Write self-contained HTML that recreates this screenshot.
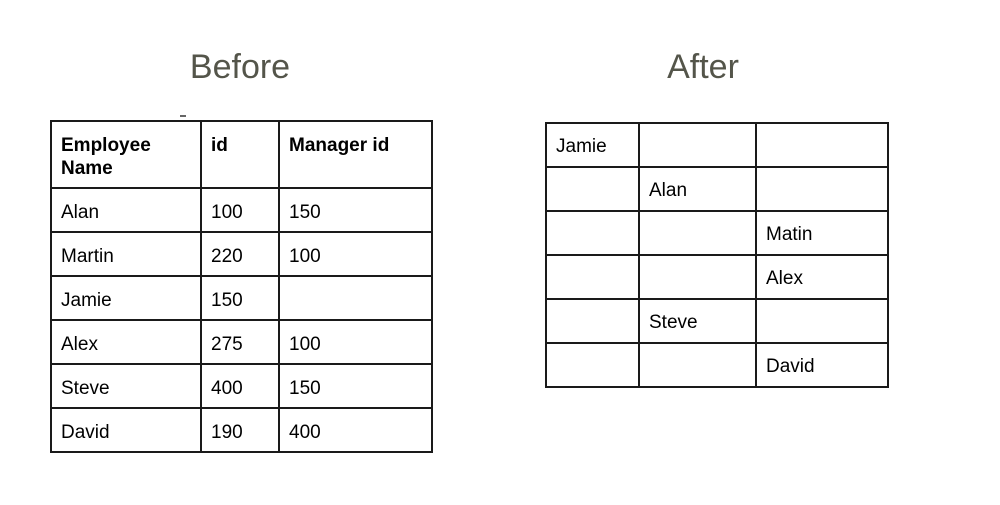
<!DOCTYPE html>
<html><head><style>body{margin:0;background:#fff}</style></head><body>
<svg width="1000" height="500" xmlns="http://www.w3.org/2000/svg" font-family="Liberation Sans, Arial, sans-serif">
<rect width="1000" height="500" fill="#fff"/>
<text x="240" y="78" font-size="34" fill="#54554a" text-anchor="middle">Before</text>
<text x="703" y="78" font-size="34" fill="#54554a" text-anchor="middle">After</text>
<line x1="180" y1="116" x2="186" y2="116" stroke="#333" stroke-width="1.5"/>
<g stroke="#1a1a1a" stroke-width="2" fill="none">
<rect x="51" y="121" width="381" height="331"/>
<line x1="201" y1="121" x2="201" y2="452"/><line x1="279" y1="121" x2="279" y2="452"/>
<line x1="51" y1="188" x2="432" y2="188"/><line x1="51" y1="232" x2="432" y2="232"/>
<line x1="51" y1="276" x2="432" y2="276"/><line x1="51" y1="320" x2="432" y2="320"/>
<line x1="51" y1="364" x2="432" y2="364"/><line x1="51" y1="408" x2="432" y2="408"/>
<rect x="546" y="123" width="342" height="264"/>
<line x1="639" y1="123" x2="639" y2="387"/><line x1="756" y1="123" x2="756" y2="387"/>
<line x1="546" y1="167" x2="888" y2="167"/><line x1="546" y1="211" x2="888" y2="211"/>
<line x1="546" y1="255" x2="888" y2="255"/><line x1="546" y1="299" x2="888" y2="299"/>
<line x1="546" y1="343" x2="888" y2="343"/>
</g>
<g font-size="19" fill="#000">
<g font-weight="bold"><text x="61" y="151">Employee</text><text x="61" y="174">Name</text><text x="211" y="151">id</text><text x="289" y="151">Manager id</text></g>
<text x="61" y="218">Alan</text><text x="211" y="218">100</text><text x="289" y="218">150</text>
<text x="61" y="262">Martin</text><text x="211" y="262">220</text><text x="289" y="262">100</text>
<text x="61" y="306">Jamie</text><text x="211" y="306">150</text>
<text x="61" y="350">Alex</text><text x="211" y="350">275</text><text x="289" y="350">100</text>
<text x="61" y="394">Steve</text><text x="211" y="394">400</text><text x="289" y="394">150</text>
<text x="61" y="438">David</text><text x="211" y="438">190</text><text x="289" y="438">400</text>
<text x="556" y="152">Jamie</text>
<text x="649" y="196">Alan</text>
<text x="766" y="240">Matin</text>
<text x="766" y="284">Alex</text>
<text x="649" y="328">Steve</text>
<text x="766" y="372">David</text>
</g>
</svg>
</body></html>
